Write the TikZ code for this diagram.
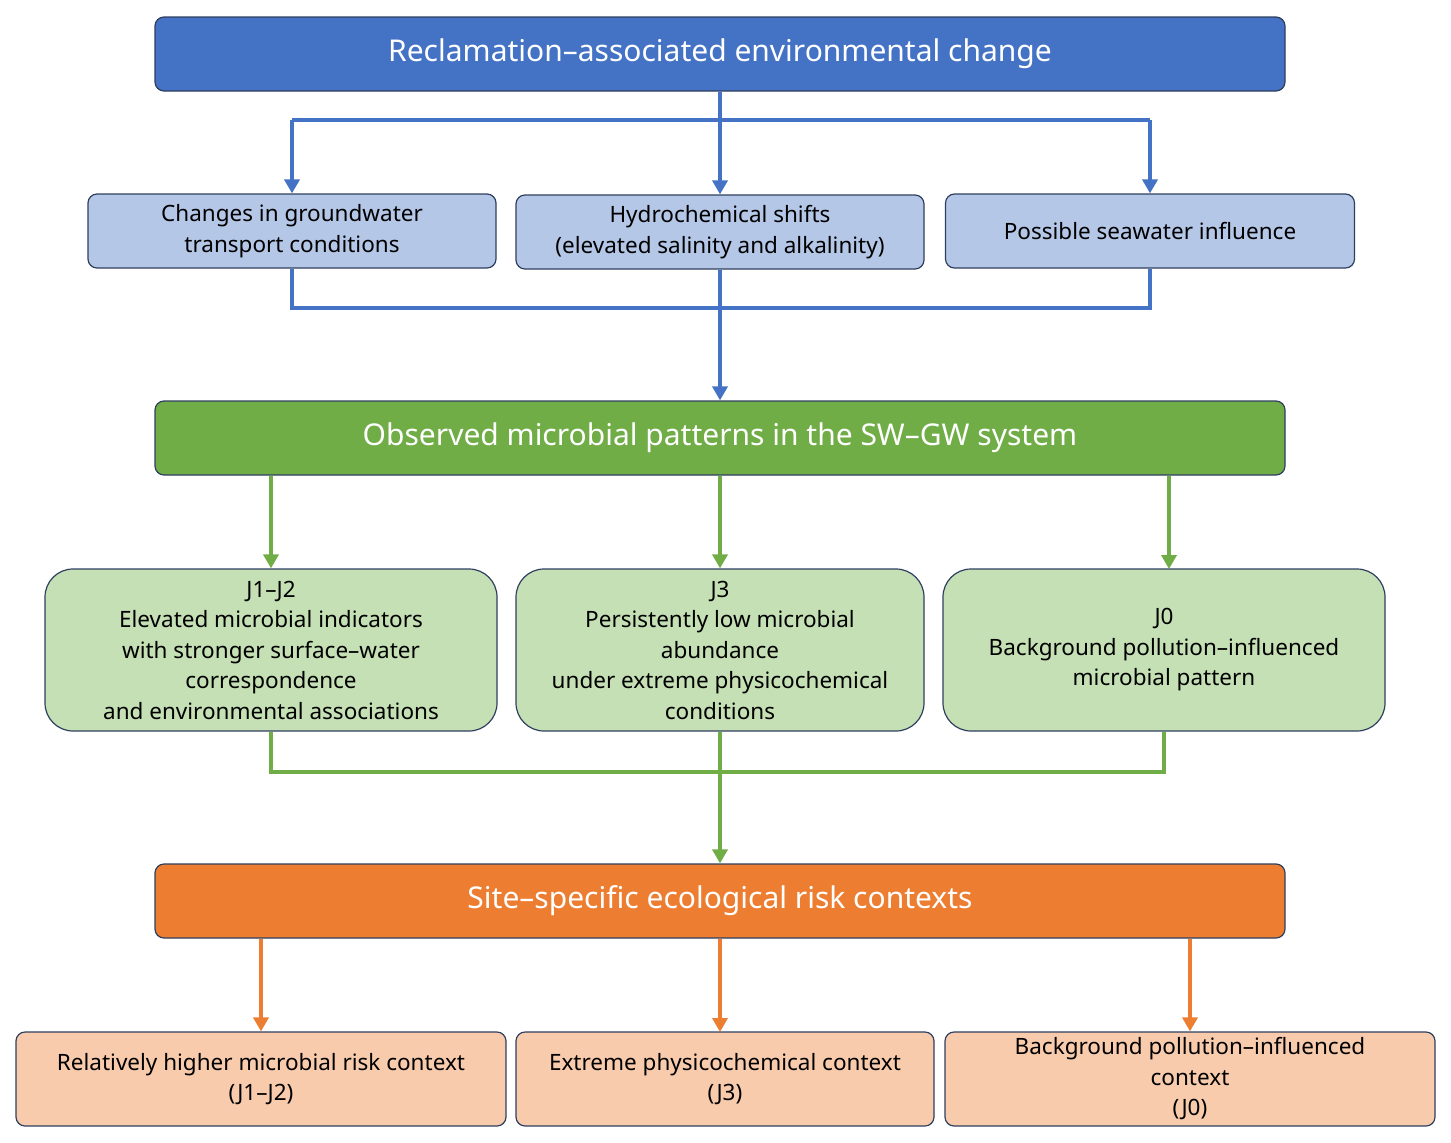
\documentclass[tikz,border=0pt]{standalone}
\usepackage{fontspec}
\setmainfont{Noto Sans}
\usetikzlibrary{arrows.meta}
\definecolor{bluehd}{HTML}{4472C4}
\definecolor{bluelt}{HTML}{B4C7E7}
\definecolor{greenhd}{HTML}{70AD47}
\definecolor{greenlt}{HTML}{C5E0B4}
\definecolor{orangehd}{HTML}{ED7D31}
\definecolor{orangelt}{HTML}{F8CBAD}
\definecolor{edge}{HTML}{2F3F5F}
\tikzset{
  box/.style={draw=edge, line width=1.2pt, rounded corners=9pt, align=center, inner sep=0pt},
  head/.style={box, text=white, font=\fontsize{30}{36}\selectfont, minimum width=1130pt, minimum height=74pt},
  small/.style={box, font=\fontsize{22.5}{30.5}\selectfont},
  link/.style={line width=4.5pt, -{Triangle[length=14pt,width=15pt]}},
  bus/.style={line width=4.5pt}
}
\begin{document}
\begin{tikzpicture}[x=1pt,y=-1pt]
\useasboundingbox (0,0) rectangle (1451,1143);
% level 1
\node[head, fill=bluehd] (rec) at (720,54) {Reclamation–associated environmental change};
\node[small, fill=bluelt, minimum width=408pt, minimum height=74pt] (gw) at (292,231) {Changes in groundwater\\transport conditions};
\node[small, fill=bluelt, minimum width=408pt, minimum height=74pt] (hy) at (720,232) {Hydrochemical shifts\\(elevated salinity and alkalinity)};
\node[small, fill=bluelt, minimum width=409pt, minimum height=74pt] (sea) at (1150,231) {Possible seawater influence};
% level 2
\node[head, fill=greenhd] (obs) at (720,438) {Observed microbial patterns in the SW–GW system};
\node[small, fill=greenlt, rounded corners=28pt, minimum width=452pt, minimum height=162pt] (j12) at (271,650) {J1–J2\\Elevated microbial indicators\\with stronger surface–water\\correspondence\\and environmental associations};
\node[small, fill=greenlt, rounded corners=28pt, minimum width=408pt, minimum height=162pt] (j3) at (720,650) {J3\\Persistently low microbial\\abundance\\under extreme physicochemical\\conditions};
\node[small, fill=greenlt, rounded corners=28pt, minimum width=442pt, minimum height=162pt] (j0) at (1164,650) {J0\\Background pollution–influenced\\microbial pattern};
% level 3
\node[head, fill=orangehd] (risk) at (720,901) {Site–specific ecological risk contexts};
\node[small, fill=orangelt, minimum width=490pt, minimum height=94pt] (hi) at (261,1079) {Relatively higher microbial risk context\\(J1–J2)};
\node[small, fill=orangelt, minimum width=418pt, minimum height=94pt] (ex) at (725,1079) {Extreme physicochemical context\\(J3)};
\node[small, fill=orangelt, minimum width=490pt, minimum height=94pt] (bg) at (1190,1079) {Background pollution–influenced\\context\\(J0)};
% connectors
\coordinate (b1) at (720,120);
\coordinate (b2) at (720,308);
\coordinate (b3) at (720,772);
\draw[bus, bluehd] (rec.south) -- (b1);
\draw[bus, bluehd] (gw.north |- b1) -- (sea.north |- b1);
\foreach \n in {gw,hy,sea} \draw[link, bluehd] (\n.north |- b1) -- (\n.north);
\draw[bus, bluehd] (gw.south) -- (gw.south |- b2) -- (sea.south |- b2) -- (sea.south);
\draw[link, bluehd] (hy.south) -- (obs.north);
\draw[link, greenhd] (obs.south -| j12.north) -- (j12.north);
\draw[link, greenhd] (obs.south) -- (j3.north);
\draw[link, greenhd] (obs.south -| 1169,0) -- (1169,569);
\draw[bus, greenhd] (j12.south) -- (j12.south |- b3) -- (j0.south |- b3) -- (j0.south);
\draw[link, greenhd] (j3.south) -- (risk.north);
\draw[link, orangehd] (risk.south -| hi.north) -- (hi.north);
\draw[link, orangehd] (risk.south) -- (720,1032);
\draw[link, orangehd] (risk.south -| bg.north) -- (bg.north);
\end{tikzpicture}
\end{document}
